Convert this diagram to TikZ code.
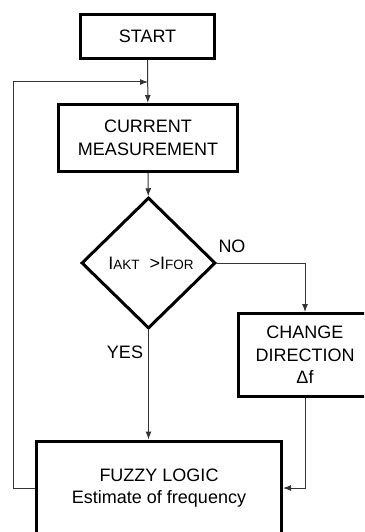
\documentclass[tikz,border=0pt]{standalone}
\usepackage{fontspec}
\setmainfont{Liberation Sans}
\usetikzlibrary{arrows.meta,shapes.geometric,positioning}
\newcommand{\mysub}[1]{{\fontsize{13.5}{13.5}\selectfont #1}}

\begin{document}
\begin{tikzpicture}[
  x=1pt, y=-1pt,
  font=\fontsize{18}{22.5}\selectfont,
  mybox/.style={
    draw,
    line width=3pt,
    rectangle,
    align=center,
    inner sep=0pt
    },
  mydiamond/.style={
    draw,
    line width=3pt,
    diamond,
    inner sep=0pt,
    minimum width=134pt,
    minimum height=131pt
    },
  myline/.style={
    draw=black!80,
    line width=1pt,
    -{Latex[length=8pt,width=6pt]}
    }
]
\useasboundingbox (0,0) rectangle (364,532);
\clip (0,0) rectangle (364,532);

\node[mybox, minimum width=134pt, minimum height=44pt] (start) at (147.5,36.5) {START};
\node[mybox, minimum width=179pt, minimum height=67pt] (current) at (148,138) {CURRENT\\MEASUREMENT};
\node[mydiamond] (test) at (148.5,263) {\hspace{5pt}I\mysub{AKT}\ \ >I\mysub{FOR}};
\node[mybox, minimum width=133pt, minimum height=83pt] (change) at (305,355) {CHANGE\\DIRECTION\\Δf};
\node[mybox, minimum width=245pt, minimum height=94pt] (fuzzy) at (159,488) {FUZZY LOGIC\\Estimate of frequency};

\node (no) at (232,246) {NO};
\node (yes) at (125,352) {YES};

\coordinate (loop) at (13,82);
\coordinate (join) at (148,82);

\draw[myline] (start) -- (current);
\draw[myline] (current) -- (test);
\draw[myline] (test.east) -| (change.north);
\draw[myline] (test.south) -- (test.south |- fuzzy.north);
\draw[myline] (change.south) |- (fuzzy.east);
\draw[myline] (fuzzy.west) -| (loop) -- (join);

\end{tikzpicture}
\end{document}
